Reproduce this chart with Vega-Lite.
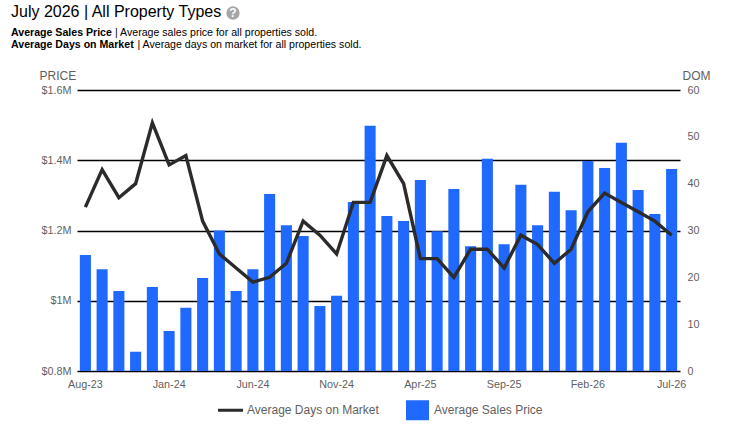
{
  "$schema": "https://vega.github.io/schema/vega-lite/v6.json",
  "background": "white",
  "autosize": {"type": "none"},
  "padding": {"left": 77, "top": 90, "right": 62, "bottom": 68},
  "width": 603,
  "height": 281,
  "datasets": {
    "monthly": [
      {"month": "Aug-23", "price": 1.130, "dom": 35},
      {"month": "Sep-23", "price": 1.090, "dom": 43},
      {"month": "Oct-23", "price": 1.028, "dom": 37},
      {"month": "Nov-23", "price": 0.855, "dom": 40},
      {"month": "Dec-23", "price": 1.039, "dom": 53},
      {"month": "Jan-24", "price": 0.914, "dom": 44},
      {"month": "Feb-24", "price": 0.980, "dom": 46},
      {"month": "Mar-24", "price": 1.065, "dom": 32},
      {"month": "Apr-24", "price": 1.200, "dom": 25},
      {"month": "May-24", "price": 1.028, "dom": 22},
      {"month": "Jun-24", "price": 1.090, "dom": 19},
      {"month": "Jul-24", "price": 1.304, "dom": 20},
      {"month": "Aug-24", "price": 1.215, "dom": 23},
      {"month": "Sep-24", "price": 1.184, "dom": 32},
      {"month": "Oct-24", "price": 0.985, "dom": 29},
      {"month": "Nov-24", "price": 1.014, "dom": 25},
      {"month": "Dec-24", "price": 1.281, "dom": 36},
      {"month": "Jan-25", "price": 1.498, "dom": 36},
      {"month": "Feb-25", "price": 1.241, "dom": 46},
      {"month": "Mar-25", "price": 1.227, "dom": 40},
      {"month": "Apr-25", "price": 1.344, "dom": 24},
      {"month": "May-25", "price": 1.198, "dom": 24},
      {"month": "Jun-25", "price": 1.318, "dom": 20},
      {"month": "Jul-25", "price": 1.155, "dom": 26},
      {"month": "Aug-25", "price": 1.404, "dom": 26},
      {"month": "Sep-25", "price": 1.161, "dom": 22},
      {"month": "Oct-25", "price": 1.330, "dom": 29},
      {"month": "Nov-25", "price": 1.215, "dom": 27},
      {"month": "Dec-25", "price": 1.310, "dom": 23},
      {"month": "Jan-26", "price": 1.258, "dom": 26},
      {"month": "Feb-26", "price": 1.398, "dom": 34},
      {"month": "Mar-26", "price": 1.378, "dom": 38},
      {"month": "Apr-26", "price": 1.450, "dom": 36},
      {"month": "May-26", "price": 1.315, "dom": 34},
      {"month": "Jun-26", "price": 1.247, "dom": 32},
      {"month": "Jul-26", "price": 1.375, "dom": 29}
    ]
  },
  "layer": [
    {
      "data": {"name": "monthly"},
      "mark": {"type": "bar", "clip": true},
      "encoding": {
        "x": {
          "field": "month",
          "type": "ordinal",
          "sort": null,
          "title": null,
          "scale": {"paddingInner": 0.34, "paddingOuter": 0.17},
          "axis": {
            "values": ["Aug-23", "Jan-24", "Jun-24", "Nov-24", "Apr-25", "Sep-25", "Feb-26", "Jul-26"],
            "labelAngle": 0,
            "labelPadding": 7,
            "labelFont": "Liberation Sans",
            "labelFontSize": 10.8,
            "labelColor": "#5f5f5f",
            "domain": false,
            "ticks": false,
            "grid": false
          }
        },
        "y": {
          "field": "price",
          "type": "quantitative",
          "title": "PRICE",
          "scale": {"domain": [0.8, 1.6]},
          "axis": {
            "orient": "left",
            "values": [0.8, 1.0, 1.2, 1.4, 1.6],
            "labelExpr": "datum.value == 1 ? '$1M' : '$' + format(datum.value, '.1f') + 'M'",
            "labelFont": "Liberation Sans",
            "labelFontSize": 10.8,
            "labelColor": "#5f5f5f",
            "labelPadding": 6,
            "domain": false,
            "ticks": false,
            "grid": true,
            "gridColor": "#000000",
            "gridWidth": 1.5,
            "gridOpacity": 1,
            "titleFont": "Liberation Sans",
            "titleFontSize": 12,
            "titleFontWeight": "normal",
            "titleColor": "#5f5f5f",
            "titleAngle": 0,
            "titleAlign": "left",
            "titleBaseline": "middle",
            "titleX": -38,
            "titleY": -15
          }
        },
        "color": {
          "datum": "Average Sales Price",
          "scale": {
            "domain": ["Average Days on Market", "Average Sales Price"],
            "range": ["#2b2b2b", "#1f69ff"]
          },
          "legend": {
            "orient": "none",
            "legendX": 142,
            "legendY": 308.5,
            "direction": "horizontal",
            "title": null,
            "labelFont": "Liberation Sans",
            "labelFontSize": 12,
            "labelColor": "#5f5f5f",
            "labelOffset": 5,
            "symbolSize": 529,
            "columnPadding": 27,
            "encode": {
              "symbols": {
                "update": {
                  "shape": {"signal": "datum.value == 'Average Sales Price' ? 'M-1,-0.87H1V0.87H-1Z' : 'M-1.09,-0.13H1.09V0.13H-1.09Z M0,-0.87L0,0.87'"},
                  "fill": {"signal": "datum.value == 'Average Sales Price' ? '#1f69ff' : '#2b2b2b'"},
                  "stroke": {"value": "transparent"},
                  "strokeWidth": {"value": 0},
                  "opacity": {"value": 1}
                }
              }
            }
          }
        }
      }
    },
    {
      "data": {"name": "monthly"},
      "mark": {"type": "line", "strokeWidth": 3.4, "strokeJoin": "miter"},
      "encoding": {
        "x": {"field": "month", "type": "ordinal", "sort": null},
        "y": {
          "field": "dom",
          "type": "quantitative",
          "title": "DOM",
          "scale": {"domain": [0, 60]},
          "axis": {
            "orient": "right",
            "values": [0, 10, 20, 30, 40, 50, 60],
            "labelFont": "Liberation Sans",
            "labelFontSize": 10.8,
            "labelColor": "#5f5f5f",
            "labelPadding": 7,
            "domain": false,
            "ticks": false,
            "grid": false,
            "titleFont": "Liberation Sans",
            "titleFontSize": 12,
            "titleFontWeight": "normal",
            "titleColor": "#5f5f5f",
            "titleAngle": 0,
            "titleAlign": "left",
            "titleBaseline": "middle",
            "titleX": 2,
            "titleY": -15
          }
        },
        "color": {"datum": "Average Days on Market"}
      }
    },
    {
      "data": {"values": [{}]},
      "mark": {"type": "text", "text": "July 2026 | All Property Types", "x": -66, "y": -78, "font": "Liberation Sans", "fontSize": 16, "color": "#000000", "align": "left", "baseline": "middle"},
      "encoding": {}
    },
    {
      "data": {"values": [{}]},
      "mark": {"type": "point", "filled": true, "opacity": 1, "size": 177, "color": "#a6a6a6", "x": 156, "y": -77},
      "encoding": {}
    },
    {
      "data": {"values": [{}]},
      "mark": {"type": "text", "text": "?", "x": 156, "y": -77, "font": "Liberation Sans", "fontSize": 12, "fontWeight": "bold", "color": "#ffffff", "align": "center", "baseline": "middle"},
      "encoding": {}
    },
    {
      "data": {"values": [{}]},
      "mark": {"type": "text", "text": "Average Sales Price", "x": -66, "y": -58, "font": "Liberation Sans", "fontSize": 10.6, "fontWeight": "bold", "color": "#000000", "align": "left", "baseline": "middle", "dy": 0.8},
      "encoding": {}
    },
    {
      "data": {"values": [{}]},
      "mark": {"type": "text", "text": "| Average sales price for all properties sold.", "x": 38, "y": -58, "font": "Liberation Sans", "fontSize": 10.6, "color": "#000000", "align": "left", "baseline": "middle", "dy": 0.8},
      "encoding": {}
    },
    {
      "data": {"values": [{}]},
      "mark": {"type": "text", "text": "Average Days on Market", "x": -66, "y": -46, "font": "Liberation Sans", "fontSize": 10.6, "fontWeight": "bold", "color": "#000000", "align": "left", "baseline": "middle", "dy": 0.8},
      "encoding": {}
    },
    {
      "data": {"values": [{}]},
      "mark": {"type": "text", "text": "| Average days on market for all properties sold.", "x": 60.5, "y": -46, "font": "Liberation Sans", "fontSize": 10.6, "color": "#000000", "align": "left", "baseline": "middle", "dy": 0.8},
      "encoding": {}
    }
  ],
  "resolve": {"scale": {"y": "independent"}},
  "config": {"view": {"stroke": null}}
}
